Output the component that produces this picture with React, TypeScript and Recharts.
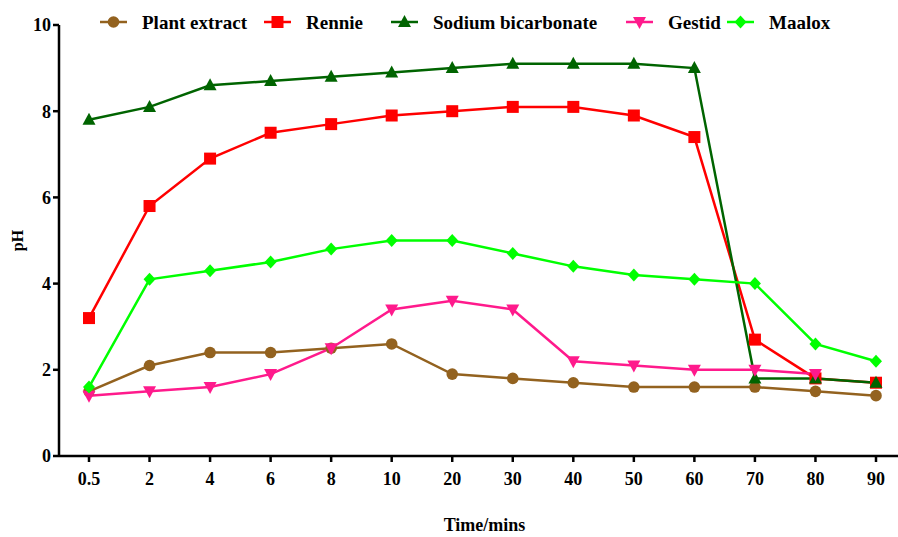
import React from 'react';
import { LineChart, Line, XAxis, YAxis, Legend } from 'recharts';

const times = ['0.5', '2', '4', '6', '8', '10', '20', '30', '40', '50', '60', '70', '80', '90'];
const plantExtract = [1.5, 2.1, 2.4, 2.4, 2.5, 2.6, 1.9, 1.8, 1.7, 1.6, 1.6, 1.6, 1.5, 1.4];
const rennie = [3.2, 5.8, 6.9, 7.5, 7.7, 7.9, 8.0, 8.1, 8.1, 7.9, 7.4, 2.7, 1.8, 1.7];
const sodiumBicarbonate = [7.8, 8.1, 8.6, 8.7, 8.8, 8.9, 9.0, 9.1, 9.1, 9.1, 9.0, 1.8, 1.8, 1.7];
const gestid = [1.4, 1.5, 1.6, 1.9, 2.5, 3.4, 3.6, 3.4, 2.2, 2.1, 2.0, 2.0, 1.9, null];
const maalox = [1.6, 4.1, 4.3, 4.5, 4.8, 5.0, 5.0, 4.7, 4.4, 4.2, 4.1, 4.0, 2.6, 2.2];
const yTicks = [0, 2, 4, 6, 8, 10];

const seriesNames = ['Plant extract', 'Rennie', 'Sodium bicarbonate', 'Gestid', 'Maalox'];
const seriesKeys = ['plant', 'rennie', 'sodium', 'gestid', 'maalox'];
const seriesColors = ['#93621F', '#FF0000', '#006400', '#FF1A8C', '#00FF00'];
const seriesShapes = ['circle', 'square', 'triangleUp', 'triangleDown', 'diamond'];
const legendX = [100, 264, 391, 626, 727];

const data = times.map((t, i) => ({
  time: t,
  plant: plantExtract[i],
  rennie: rennie[i],
  sodium: sodiumBicarbonate[i],
  gestid: gestid[i],
  maalox: maalox[i],
}));

const FONT = '"Liberation Serif", "Times New Roman", serif';

function Marker({ shape, cx, cy, color }: { shape: string; cx: number; cy: number; color: string }) {
  if (cx == null || cy == null || isNaN(cy)) return null;
  switch (shape) {
    case 'circle':
      return <circle cx={cx} cy={cy} r={5.8} fill={color} />;
    case 'square':
      return <rect x={cx - 6} y={cy - 6} width={12} height={12} fill={color} />;
    case 'triangleUp':
      return <polygon points={`${cx},${cy - 7} ${cx + 6.5},${cy + 5} ${cx - 6.5},${cy + 5}`} fill={color} />;
    case 'triangleDown':
      return <polygon points={`${cx - 6.5},${cy - 5} ${cx + 6.5},${cy - 5} ${cx},${cy + 7}`} fill={color} />;
    case 'diamond':
      return <polygon points={`${cx},${cy - 6.5} ${cx + 6},${cy} ${cx},${cy + 6.5} ${cx - 6},${cy}`} fill={color} />;
    default:
      return null;
  }
}

const renderLegend = () => (
  <svg width={898} height={40} style={{ display: 'block' }}>
    {seriesNames.map((name, i) => {
      const x = legendX[i];
      return (
        <g key={name}>
          <line x1={x} x2={x + 27} y1={22} y2={22} stroke={seriesColors[i]} strokeWidth={2.5} />
          <Marker shape={seriesShapes[i]} cx={x + 13.5} cy={22} color={seriesColors[i]} />
          <text
            x={x + 42}
            y={22}
            dy="0.35em"
            fontFamily={FONT}
            fontWeight="bold"
            fontSize={19}
            fill="#000"
          >
            {name}
          </text>
        </g>
      );
    })}
  </svg>
);

const XLabel = (props: any) => {
  const vb = props.viewBox || {};
  return (
    <text
      x={vb.x + vb.width / 2 + 6}
      y={525}
      dy="0.35em"
      textAnchor="middle"
      fontFamily={FONT}
      fontWeight="bold"
      fontSize={18}
      fill="#000"
    >
      Time/mins
    </text>
  );
};

const YLabel = (props: any) => {
  const vb = props.viewBox || {};
  const cy = vb.y + vb.height / 2;
  return (
    <text
      x={17}
      y={cy}
      dy="0.35em"
      textAnchor="middle"
      transform={`rotate(-90, 17, ${cy})`}
      fontFamily={FONT}
      fontWeight="bold"
      fontSize={16}
      fill="#000"
    >
      pH
    </text>
  );
};

export default function App() {
  return (
    <div style={{ position: 'absolute', left: 0, top: 0, width: 898, height: 537, background: '#fff' }}>
      <LineChart width={898} height={537} data={data} margin={{ top: 25, right: 0, left: 0, bottom: 0 }}>
        <XAxis
          dataKey="time"
          height={81}
          padding={{ left: 30, right: 22 }}
          axisLine={{ stroke: '#000', strokeWidth: 2.5 }}
          tickLine={{ stroke: '#000', strokeWidth: 2.5 }}
          tickSize={6}
          tickMargin={10}
          tick={{ fill: '#000', fontFamily: FONT, fontWeight: 'bold', fontSize: 18 }}
          interval={0}
          label={<XLabel />}
        />
        <YAxis
          width={59}
          domain={[0, 10]}
          ticks={yTicks}
          allowDataOverflow
          axisLine={{ stroke: '#000', strokeWidth: 2.5 }}
          tickLine={{ stroke: '#000', strokeWidth: 2.5 }}
          tickSize={6}
          tickMargin={2}
          tick={{ fill: '#000', fontFamily: FONT, fontWeight: 'bold', fontSize: 18 }}
          label={<YLabel />}
        />
        <Legend
          layout="horizontal"
          verticalAlign="middle"
          content={renderLegend}
          wrapperStyle={{ top: 0, left: 0, width: 898, height: 40 }}
        />
        {seriesKeys.map((k, i) => (
          <Line
            key={k}
            dataKey={k}
            name={seriesNames[i]}
            stroke={seriesColors[i]}
            strokeWidth={2.5}
            isAnimationActive={false}
            dot={(p: any) => (
              <Marker key={`${k}-${p.index}`} shape={seriesShapes[i]} cx={p.cx} cy={p.cy} color={seriesColors[i]} />
            )}
            activeDot={false}
          />
        ))}
      </LineChart>
    </div>
  );
}
